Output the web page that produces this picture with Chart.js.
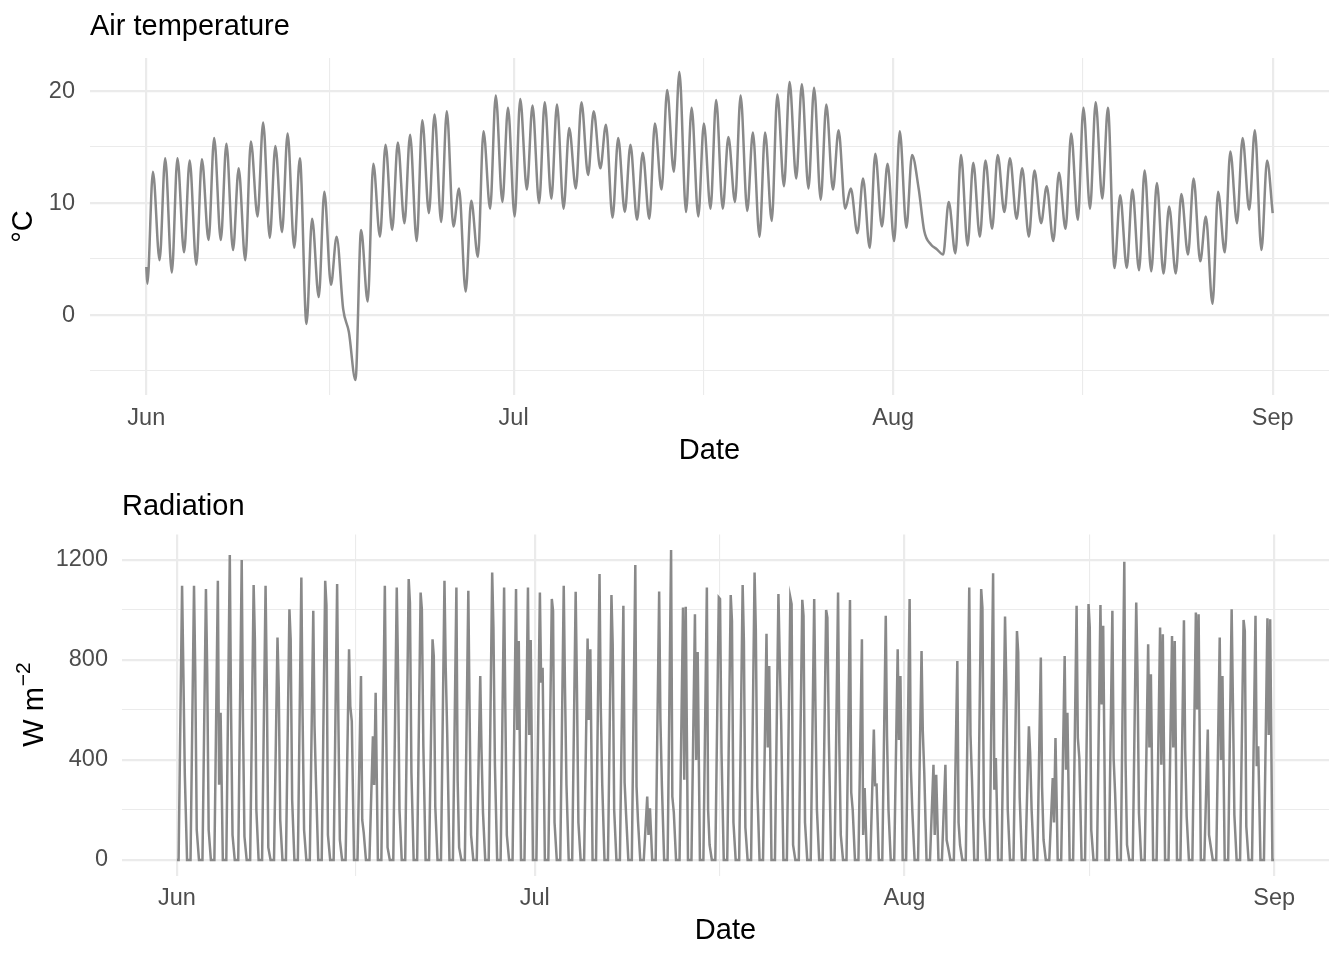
<!DOCTYPE html>
<html>
<head>
<meta charset="utf-8">
<title>Air temperature and radiation</title>
<script src="https://cdn.jsdelivr.net/npm/chart.js@4.4.1/dist/chart.umd.min.js"></script>
<style>
  html, body { margin: 0; padding: 0; background: #fff; }
  .panel { position: absolute; left: 0; width: 1344px; height: 480px; }
</style>
</head>
<body>
<div class="panel" style="top:0"><canvas id="tempChart" width="1344" height="480"></canvas></div>
<div class="panel" style="top:480px"><canvas id="radChart" width="1344" height="480"></canvas></div>
<script>
const FONT = '"Liberation Sans", Arial, Helvetica, sans-serif';
Chart.defaults.font.family = FONT;

// x axis: days since 1 June
const monthDays = [0, 30, 61, 92];
const monthLabels = ['Jun', 'Jul', 'Aug', 'Sep'];
const midMonthDays = [15, 45.5, 76.5];

const tempTicks = [-5, 0, 5, 10, 15, 20];
const tempLabelled = [0, 10, 20];
const radTicks = [0, 200, 400, 600, 800, 1000, 1200];
const radLabelled = [0, 400, 800, 1200];

// air temperature: value at 02:00 and at 13:00 each day
const tempHours = [2, 13];
const tempStart = 4.3;
const tempEnd = 9.1;
const tempNight = [
  2.8, 4.9, 3.8, 5.6, 4.5, 6.7, 6.7, 5.8, 4.9, 8.8,
  6.9, 7.4, 6.0, -0.8, 1.6, 2.7, 0.5, -5.8, 1.2, 7.0,
  7.6, 8.2, 6.6, 9.1, 8.3, 7.9, 2.1, 5.2, 9.5, 10.1,
  8.8, 11.2, 10.0, 10.4, 9.5, 11.3, 12.5, 13.1, 8.7, 9.2,
  8.5, 8.6, 11.2, 12.8, 9.2, 8.8, 9.5, 9.5, 10.1, 9.3,
  7.0, 8.4, 11.5, 12.2, 11.3, 10.3, 11.2, 9.5, 7.3, 6.0,
  7.9, 6.6, 7.8, 11.3, 6.3, 5.4, 5.5, 6.2, 7.0, 7.7,
  9.2, 8.6, 7.0, 8.2, 6.6, 7.7, 8.5, 9.5, 10.4, 4.2,
  4.2, 4.0, 3.9, 3.7, 3.7, 5.4, 4.8, 1.0, 5.6, 8.2,
  9.4, 5.8
];
const tempDay = [
  12.8, 14.0, 14.0, 13.8, 13.9, 15.8, 15.3, 13.1, 15.5, 17.2,
  15.1, 16.2, 14.0, 8.6, 11.0, 7.0, -1.5, 7.6, 13.5, 15.2,
  15.4, 16.1, 17.4, 17.9, 18.2, 11.3, 10.2, 16.4, 19.6, 18.5,
  19.3, 18.7, 19.0, 18.8, 16.7, 19.0, 18.2, 17.0, 15.8, 15.2,
  14.5, 17.1, 20.1, 21.7, 18.5, 17.1, 19.2, 15.9, 19.6, 16.3,
  16.3, 19.7, 20.8, 20.6, 20.3, 18.8, 16.5, 11.3, 12.2, 14.4,
  13.5, 16.4, 14.3, 7.5, 5.9, 10.1, 14.3, 13.6, 13.8, 14.3,
  14.0, 13.1, 12.9, 11.5, 12.7, 16.2, 18.5, 19.0, 18.5, 10.7,
  11.2, 12.9, 11.8, 9.7, 10.8, 12.2, 8.8, 11.0, 14.6, 15.8,
  16.5, 13.8
];

// radiation: zero at night, then peak / dip / late value during the day
const radHours = [3.5, 10.5, 13, 16, 20.5];
const radPeak = [
  1097, 1097, 1084, 1117, 1220, 1200, 1100, 1097, 890, 1003,
  1130, 997, 1117, 1104, 843, 736, 495, 1097, 1090, 1124,
  1070, 883, 1117, 1090, 1077, 736, 1150, 1090, 1084, 1090,
  1070, 1044, 1097, 1073, 886, 1144, 1060, 1017, 1180, 254,
  1074, 1240, 1010, 983, 1090, 1050, 1060, 1100, 1150, 905,
  1064, 1050, 1041, 1044, 1000, 1070, 1040, 883, 522, 977,
  843, 1044, 836, 381, 381, 796, 1090, 1084, 1147, 974,
  916, 535, 810, 328, 816, 1017, 1024, 1020, 997, 1193,
  1030, 863, 930, 896, 959, 990, 522, 890, 1003, 960,
  977, 967
];
const radDip = [
  763, 756, 763, 301, 609, 562, 883, 700, 689, 883,
  575, 535, 1020, 560, 615, 160, 300, 575, 769, 1030,
  1003, 816, 769, 320, 600, 441, 930, 600, 520, 500,
  709, 997, 689, 700, 560, 615, 863, 310, 294, 100,
  562, 254, 321, 400, 200, 1044, 957, 876, 923, 450,
  816, 1024, 977, 615, 970, 462, 270, 100, 300, 495,
  480, 368, 515, 100, 80, 150, 500, 1010, 281, 716,
  830, 430, 294, 150, 361, 488, 930, 622, 408, 395,
  756, 450, 381, 450, 441, 602, 100, 400, 642, 916,
  375, 500
];
const radLate = [
  341, 120, 120, 589, 100, 94, 200, 50, 160, 240,
  120, 307, 100, 80, 555, 110, 669, 50, 200, 348,
  455, 214, 508, 50, 100, 190, 380, 100, 876, 880,
  769, 150, 300, 150, 843, 300, 200, 180, 154, 207,
  300, 190, 1013, 832, 60, 428, 150, 130, 288, 776,
  555, 60, 150, 200, 480, 100, 200, 288, 301, 200,
  736, 194, 348, 341, 50, 60, 321, 170, 408, 200,
  250, 200, 80, 488, 589, 408, 120, 937, 267, 60,
  187, 743, 903, 876, 174, 983, 60, 736, 180, 134,
  455, 963
];

function tempPoints() {
  const pts = [{x: 0, y: tempStart}];
  tempNight.forEach((v, d) => {
    pts.push({x: d + tempHours[0] / 24, y: v});
    pts.push({x: d + tempHours[1] / 24, y: tempDay[d]});
  });
  pts.push({x: monthDays[3], y: tempEnd});
  return pts;
}

function radPoints() {
  const pts = [{x: 0, y: 0}];
  radPeak.forEach((p, d) => {
    const vals = [0, p, radDip[d], radLate[d], 0];
    radHours.forEach((h, i) => pts.push({x: d + h / 24, y: vals[i]}));
  });
  pts.push({x: monthDays[3], y: 0});
  return pts;
}

// title drawn at the left edge of the panel, like ggplot
const panelTitle = {
  id: 'panelTitle',
  afterDraw(chart, args, o) {
    const {ctx, chartArea} = chart;
    ctx.save();
    ctx.font = '29px ' + FONT;
    ctx.fillStyle = '#000';
    ctx.textBaseline = 'alphabetic';
    ctx.textAlign = 'left';
    ctx.fillText(o.text, chartArea.left, o.baseline);
    ctx.restore();
  }
};

// y title with a superscript (W m^-2)
const unitTitle = {
  id: 'unitTitle',
  afterDraw(chart, args, o) {
    if (!o.text) return;
    const {ctx, chartArea} = chart;
    const mid = (chartArea.top + chartArea.bottom) / 2;
    ctx.save();
    ctx.fillStyle = '#000';
    ctx.textBaseline = 'alphabetic';
    ctx.textAlign = 'left';
    ctx.font = '29px ' + FONT;
    const w1 = ctx.measureText(o.text).width;
    ctx.font = '21px ' + FONT;
    const w2 = ctx.measureText(o.sup).width;
    ctx.translate(o.baseline, mid);
    ctx.rotate(-Math.PI / 2);
    const x0 = -(w1 + w2) / 2;
    ctx.font = '29px ' + FONT;
    ctx.fillText(o.text, x0, 0);
    ctx.font = '21px ' + FONT;
    ctx.fillText(o.sup, x0 + w1 + 1, -13);
    ctx.restore();
  }
};

function dateAxis(height) {
  return {
    type: 'linear',
    min: -4.6,
    max: 96.6,
    afterBuildTicks: s => {
      s.ticks = monthDays.concat(midMonthDays).sort((a, b) => a - b).map(v => ({value: v}));
    },
    afterFit: s => { s.height = height; },
    grid: {
      color: '#ebebeb',
      lineWidth: c => (c.tick && monthDays.includes(c.tick.value)) ? 2.2 : 1.1,
      drawTicks: false
    },
    border: {display: false},
    ticks: {
      autoSkip: false,
      maxRotation: 0,
      padding: 9,
      color: '#4d4d4d',
      font: {size: 23.5},
      callback: v => {
        const i = monthDays.indexOf(v);
        return i < 0 ? '' : monthLabels[i];
      }
    },
    title: {display: true, text: 'Date', color: '#000', font: {size: 29}, padding: {top: 0, bottom: 12}}
  };
}

function valueAxis(min, max, ticks, labelled, width, pad, title) {
  return {
    type: 'linear',
    min: min,
    max: max,
    afterBuildTicks: s => { s.ticks = ticks.map(v => ({value: v})); },
    afterFit: s => { s.width = width; },
    grid: {
      color: '#ebebeb',
      lineWidth: c => (c.tick && labelled.includes(c.tick.value)) ? 2.2 : 1.1,
      drawTicks: false
    },
    border: {display: false},
    ticks: {
      padding: pad,
      color: '#4d4d4d',
      font: {size: 23.5},
      callback: v => labelled.includes(v) ? String(v) : ''
    },
    title: title
  };
}

function lineChart(id, points, smooth, xAxis, yAxis, top, titleText, unit) {
  return new Chart(document.getElementById(id), {
    type: 'line',
    data: {
      datasets: [{
        data: points,
        borderColor: '#898989',
        borderWidth: 2.5,
        pointRadius: 0,
        cubicInterpolationMode: smooth ? 'monotone' : 'default',
        tension: smooth ? 0.4 : 0,
        fill: false
      }]
    },
    options: {
      responsive: false,
      animation: false,
      events: [],
      layout: {padding: {top: top, right: 15, bottom: 0, left: 0}},
      scales: {x: xAxis, y: yAxis},
      plugins: {
        legend: {display: false},
        tooltip: {enabled: false},
        panelTitle: {text: titleText, baseline: 35},
        unitTitle: unit
      }
    },
    plugins: [panelTitle, unitTitle]
  });
}

lineChart('tempChart', tempPoints(), true, dateAxis(85),
  valueAxis(-7.14, 22.95, tempTicks, tempLabelled, 90, 15,
    {display: true, text: '°C', color: '#000', font: {size: 29}, padding: {top: 6.5, bottom: 0}}),
  58, 'Air temperature', {});

lineChart('radChart', radPoints(), false, dateAxis(84.5),
  valueAxis(-62, 1302, radTicks, radLabelled, 122, 14, {display: false}),
  54.5, 'Radiation', {text: 'W m', sup: '−2', baseline: 43});
</script>
</body>
</html>
